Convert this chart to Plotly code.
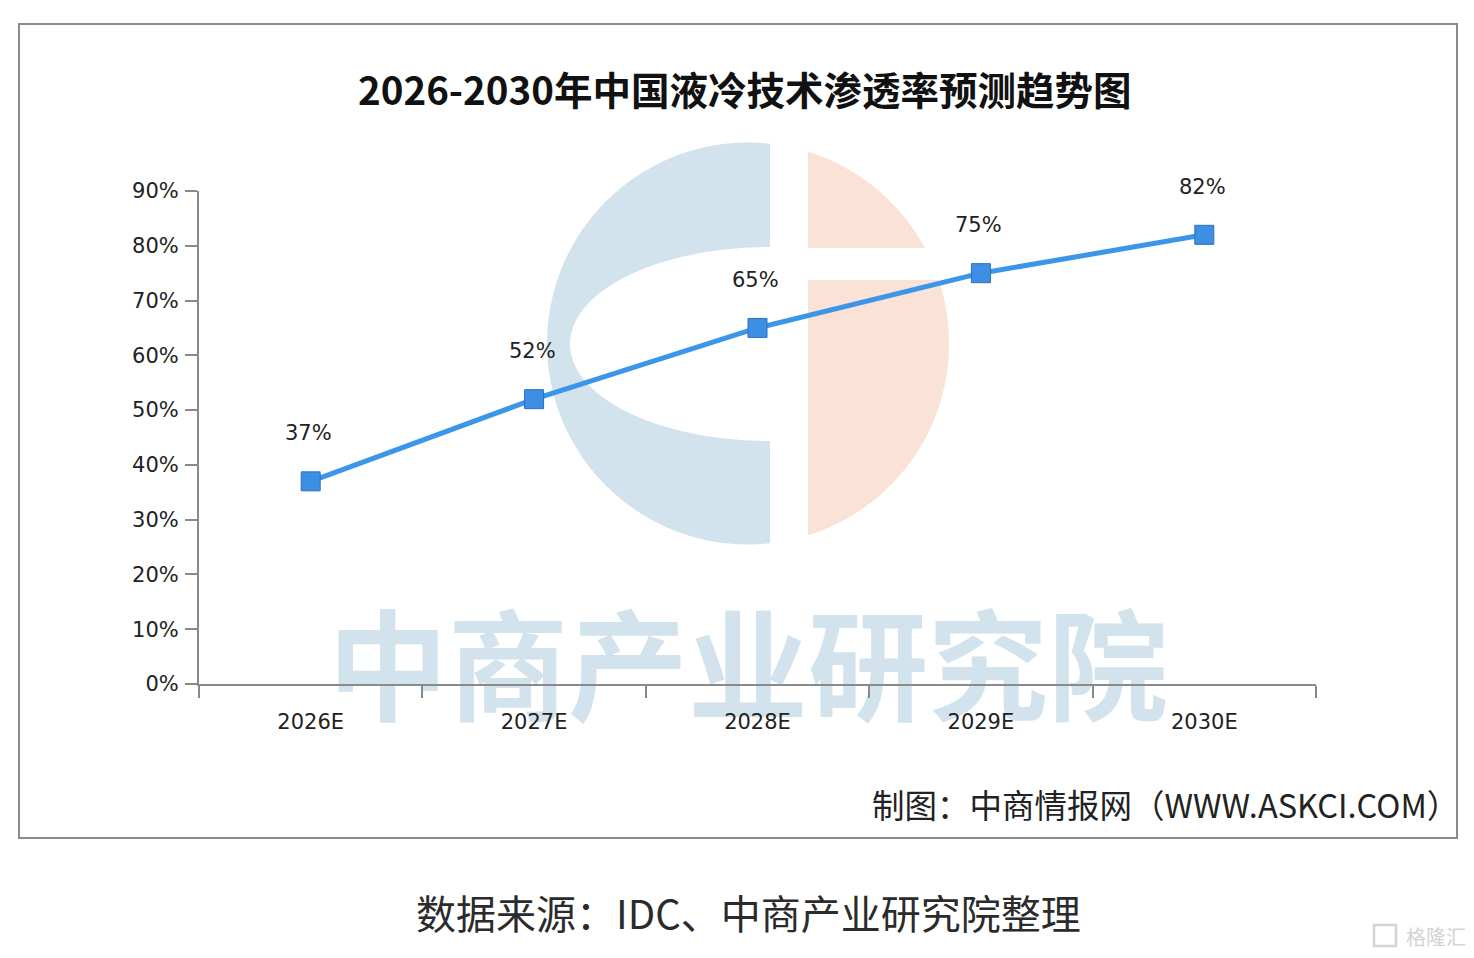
import numpy as np
import plotly.graph_objects as go

# ---------------- data ----------------
categories = ["2026E", "2027E", "2028E", "2029E", "2030E"]
penetration = [37, 52, 65, 75, 82]
y_ticks = [0, 10, 20, 30, 40, 50, 60, 70, 80, 90]
y_tick_labels = [f"{v}%" for v in y_ticks]

title_text = "2026-2030年中国液冷技术渗透率预测趋势图"
source_text = "数据来源：IDC、中商产业研究院整理"
credit_text = "制图：中商情报网（WWW.ASKCI.COM）"
watermark_text = "中商产业研究院"
logo_text = "格隆汇"

# ---------------- geometry helpers (page pixels) ----------------
W, H = 1474, 958
PL, PR, PT, PB = 199, 1316, 191, 684
n = len(categories)
YMAX = y_ticks[-1]


def px(x):
    return x / W


def py(y):
    return 1 - y / H


def dx(X):
    return -0.5 + (X - PL) / (PR - PL) * n


def dy(Y):
    return (PB - Y) / (PB - PT) * YMAX


def path_from(points):
    s = "M " + " L ".join(f"{px(x):.5f},{py(y):.5f}" for x, y in points) + " Z"
    return s


# watermark logo (circle split in two halves)
cx, cy, r = 748, 343.5, 201
xb = 770
a = np.arccos((xb - cx) / r)
th = np.linspace(-a, -2 * np.pi + a, 160)
blue_pts = [(cx + r * np.cos(t), cy + r * np.sin(t)) for t in th]
hcx, hcy, hrx, hry = 770, 344, 200, 97
ph = np.linspace(np.pi / 2, 3 * np.pi / 2, 120)
blue_pts += [(hcx + hrx * np.cos(p), hcy + hry * np.sin(p)) for p in ph]

xp = 808
t0 = -np.arccos((xp - cx) / r)
band_top, band_bot = 248, 280
t1 = np.arcsin((band_top - cy) / r)
t2 = np.arcsin((band_bot - cy) / r)
t3 = np.arccos((xp - cx) / r)
peach_up = [(cx + r * np.cos(t), cy + r * np.sin(t)) for t in np.linspace(t0, t1, 80)]
peach_up += [(xp, band_top)]
peach_lo = [(cx + r * np.cos(t), cy + r * np.sin(t)) for t in np.linspace(t2, t3, 120)]
peach_lo += [(xp, band_bot)]

BLUE_WM = "rgb(211,227,238)"
PEACH_WM = "rgb(250,226,214)"
AXIS_COL = "#8a8a8a"
TICK_FONT = dict(family="DejaVu Sans", size=21, color="#222222")

xs = list(range(n))

fig = go.Figure()

# big watermark text (below axes); anchor point kept inside the axis range
fig.add_trace(go.Scatter(
    x=[dx(748)], y=[dy(622)], mode="text", text=[watermark_text],
    textposition="bottom center",
    textfont=dict(family="Noto Sans CJK SC", size=120, color="rgb(210,227,238)", weight="bold"),
    cliponaxis=False, hoverinfo="skip", showlegend=False,
))

# data series
fig.add_trace(go.Scatter(
    x=xs, y=penetration, mode="lines+markers",
    line=dict(color="#3b96ea", width=5),
    marker=dict(symbol="square", size=19, color="#3d8fe6",
                line=dict(color="#2f6fb8", width=1)),
    cliponaxis=False, hoverinfo="skip", showlegend=False,
))

annotations = []
for i, v in enumerate(penetration):
    annotations.append(dict(
        x=xs[i], y=v, xref="x", yref="y", text=f"{v}%", showarrow=False,
        yshift=48, xshift=-2, font=TICK_FONT,
    ))

annotations += [
    dict(x=px(744), y=py(88), xref="paper", yref="paper", text=title_text,
         showarrow=False, xanchor="center", yanchor="middle",
         font=dict(family="Noto Sans CJK SC", size=38.5, color="#111111", weight="bold")),
    dict(x=px(1165), y=py(803), xref="paper", yref="paper", text=credit_text,
         showarrow=False, xanchor="center", yanchor="middle",
         font=dict(family="Noto Sans CJK SC", size=32.5, color="#222222")),
    dict(x=px(748), y=py(912), xref="paper", yref="paper", text=source_text,
         showarrow=False, xanchor="center", yanchor="middle",
         font=dict(family="Noto Sans CJK SC", size=40, color="#2b2b2b")),
    dict(x=px(1468), y=py(936), xref="paper", yref="paper", text=logo_text,
         showarrow=False, xanchor="right", yanchor="middle",
         font=dict(family="Noto Sans CJK SC", size=20, color="#d4d4d4")),
]

shapes = [
    dict(type="path", xref="paper", yref="paper", path=path_from(blue_pts),
         fillcolor=BLUE_WM, line=dict(width=0), layer="below"),
    dict(type="path", xref="paper", yref="paper", path=path_from(peach_up),
         fillcolor=PEACH_WM, line=dict(width=0), layer="below"),
    dict(type="path", xref="paper", yref="paper", path=path_from(peach_lo),
         fillcolor=PEACH_WM, line=dict(width=0), layer="below"),
    dict(type="rect", xref="paper", yref="paper",
         x0=px(19), x1=px(1457), y0=py(838), y1=py(24),
         line=dict(color="#8c8c8c", width=2), fillcolor="rgba(0,0,0,0)", layer="below"),
    # small logo box
    dict(type="rect", xref="paper", yref="paper",
         x0=px(1374), x1=px(1396), y0=py(946), y1=py(925),
         line=dict(color="#d4d4d4", width=2.5), fillcolor="rgba(0,0,0,0)", layer="below"),
]

fig.update_layout(
    width=W, height=H, autosize=False,
    margin=dict(l=0, r=0, t=0, b=0, pad=0, autoexpand=False),
    paper_bgcolor="white", plot_bgcolor="rgba(0,0,0,0)",
    showlegend=False,
    annotations=annotations, shapes=shapes,
    xaxis=dict(
        domain=[px(PL), px(PR)], range=[-0.5, n - 0.5],
        tickmode="array", tickvals=xs, ticktext=categories,
        ticks="outside", ticklen=0, tickwidth=0,
        minor=dict(tickmode="array", tickvals=[i - 0.5 for i in range(n + 1)],
                   ticks="outside", ticklen=12, tickwidth=2, tickcolor=AXIS_COL),
        showline=True, linecolor=AXIS_COL, linewidth=2,
        showgrid=False, zeroline=False, tickfont=TICK_FONT,
        ticklabelstandoff=18, fixedrange=True, automargin=False,
    ),
    yaxis=dict(
        domain=[py(PB), py(PT)], range=[0, YMAX],
        tickmode="array", tickvals=y_ticks, ticktext=y_tick_labels,
        ticks="outside", ticklen=12, tickwidth=2, tickcolor=AXIS_COL,
        showline=True, linecolor=AXIS_COL, linewidth=2,
        showgrid=False, zeroline=False, tickfont=TICK_FONT,
        ticklabelstandoff=2, fixedrange=True, automargin=False,
    ),
)

fig.write_html("out.html", config={"displayModeBar": False})
